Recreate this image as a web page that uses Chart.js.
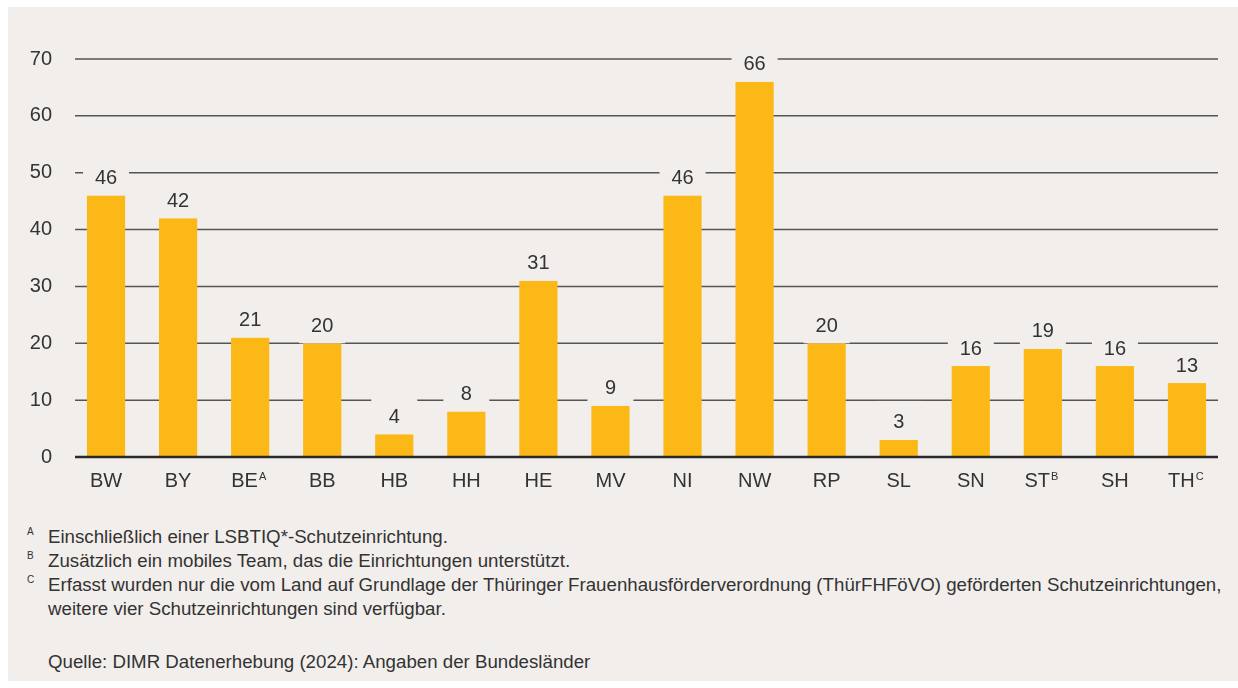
<!DOCTYPE html>
<html lang="de">
<head>
<meta charset="utf-8">
<script src="https://cdn.jsdelivr.net/npm/chart.js@4"></script>
<style>
  html, body { margin: 0; padding: 0; background: #ffffff; width: 1238px; height: 688px; overflow: hidden; }
  #panel { position: absolute; left: 8px; top: 7px; width: 1230px; height: 674px; background: #f2eeeb; }
  #chart { position: absolute; left: 0; top: 0; }
  .note { position: absolute; left: 48px; font-family: "Liberation Sans", Arial, sans-serif; font-size: 18.7px; line-height: 24px; color: #333; white-space: nowrap; }
  .mark { position: absolute; left: 27px; font-family: "Liberation Sans", Arial, sans-serif; font-size: 10px; line-height: 12px; color: #333; }
</style>
</head>
<body>
<div id="panel"></div>
<canvas id="chart" width="1238" height="500"></canvas>
<span class="mark" style="top:526px">A</span>
<span class="mark" style="top:550px">B</span>
<span class="mark" style="top:574px">C</span>
<div class="note" style="top:525px">Einschließlich einer LSBTIQ*-Schutzeinrichtung.<br>Zusätzlich ein mobiles Team, das die Einrichtungen unterstützt.<br>Erfasst wurden nur die vom Land auf Grundlage der Thüringer Frauenhausförderverordnung (ThürFHFöVO) geförderten Schutzeinrichtungen,<br>weitere vier Schutzeinrichtungen sind verfügbar.</div>
<div class="note" style="top:650px">Quelle: DIMR Datenerhebung (2024): Angaben der Bundesländer</div>
<script>
const categories = ['BW','BY','BE','BB','HB','HH','HE','MV','NI','NW','RP','SL','SN','ST','SH','TH'];
const superscripts = ['','','A','','','','','','','','','','','B','','C'];
const values = [46, 42, 21, 20, 4, 8, 31, 9, 46, 66, 20, 3, 16, 19, 16, 13];
const yTicks = [0, 10, 20, 30, 40, 50, 60, 70];

const BG = '#f2eeeb';
const TEXT = '#333333';
const FONT = '"Liberation Sans", Arial, sans-serif';

const gridPlugin = {
  id: 'customGrid',
  beforeDatasetsDraw(chart) {
    const ctx = chart.ctx, y = chart.scales.y, a = chart.chartArea;
    ctx.save();
    ctx.strokeStyle = '#555555';
    ctx.lineWidth = 1.5;
    yTicks.forEach(v => {
      if (v === 0) return;
      const py = y.getPixelForValue(v);
      ctx.beginPath();
      ctx.moveTo(a.left + 5, py);
      ctx.lineTo(a.right - 5, py);
      ctx.stroke();
    });
    ctx.restore();
  },
  afterDatasetsDraw(chart) {
    const ctx = chart.ctx, y = chart.scales.y, a = chart.chartArea;
    const meta = chart.getDatasetMeta(0);
    ctx.save();
    ctx.font = '20px ' + FONT;
    ctx.textAlign = 'center';
    ctx.textBaseline = 'middle';
    meta.data.forEach((bar, i) => {
      const cy = bar.y - 18;
      ctx.fillStyle = BG;
      ctx.fillRect(bar.x - 23, cy - 21, 46, 39);
      ctx.fillStyle = TEXT;
      ctx.fillText(String(values[i]), bar.x, cy + 1);
    });
    const p0 = y.getPixelForValue(0);
    ctx.strokeStyle = '#2a2a2a';
    ctx.lineWidth = 2.7;
    ctx.beginPath();
    ctx.moveTo(a.left + 5, p0);
    ctx.lineTo(a.right - 5, p0);
    ctx.stroke();
    ctx.restore();
  },
  afterDraw(chart) {
    const ctx = chart.ctx, x = chart.scales.x;
    ctx.save();
    superscripts.forEach((s, i) => {
      if (!s) return;
      ctx.font = '20px ' + FONT;
      const full = ctx.measureText(categories[i] + '  ').width;
      const base = ctx.measureText(categories[i]).width;
      const cx = x.getPixelForValue(i);
      const sx = cx - full / 2 + base + 1;
      ctx.font = '11px ' + FONT;
      ctx.fillStyle = TEXT;
      ctx.textAlign = 'left';
      ctx.textBaseline = 'alphabetic';
      ctx.fillText(s, sx, x.top + 23);
    });
    ctx.restore();
  }
};

new Chart(document.getElementById('chart'), {
  type: 'bar',
  data: {
    labels: categories,
    datasets: [{
      data: values,
      backgroundColor: '#fbb817',
      borderWidth: 0,
      barPercentage: 0.53,
      categoryPercentage: 1.0
    }]
  },
  options: {
    responsive: false,
    animation: false,
    devicePixelRatio: 1,
    layout: { padding: { left: 0, right: 15, top: 59, bottom: 0 } },
    plugins: { legend: { display: false }, tooltip: { enabled: false } },
    scales: {
      x: {
        grid: { display: false, drawTicks: false },
        border: { display: false },
        ticks: {
          font: { size: 20, family: FONT },
          color: TEXT,
          padding: 12,
          maxRotation: 0,
          autoSkip: false,
          callback: (v, i) => categories[i] + (superscripts[i] ? '  ' : '')
        },
        afterFit: s => { s.height = 43; }
      },
      y: {
        min: 0, max: 70,
        grid: { display: false, drawTicks: false },
        border: { display: false },
        ticks: {
          stepSize: 10,
          font: { size: 20, family: FONT },
          color: TEXT,
          padding: 18
        },
        afterFit: s => { s.width = 70; }
      }
    }
  },
  plugins: [gridPlugin]
});
</script>
</body>
</html>
